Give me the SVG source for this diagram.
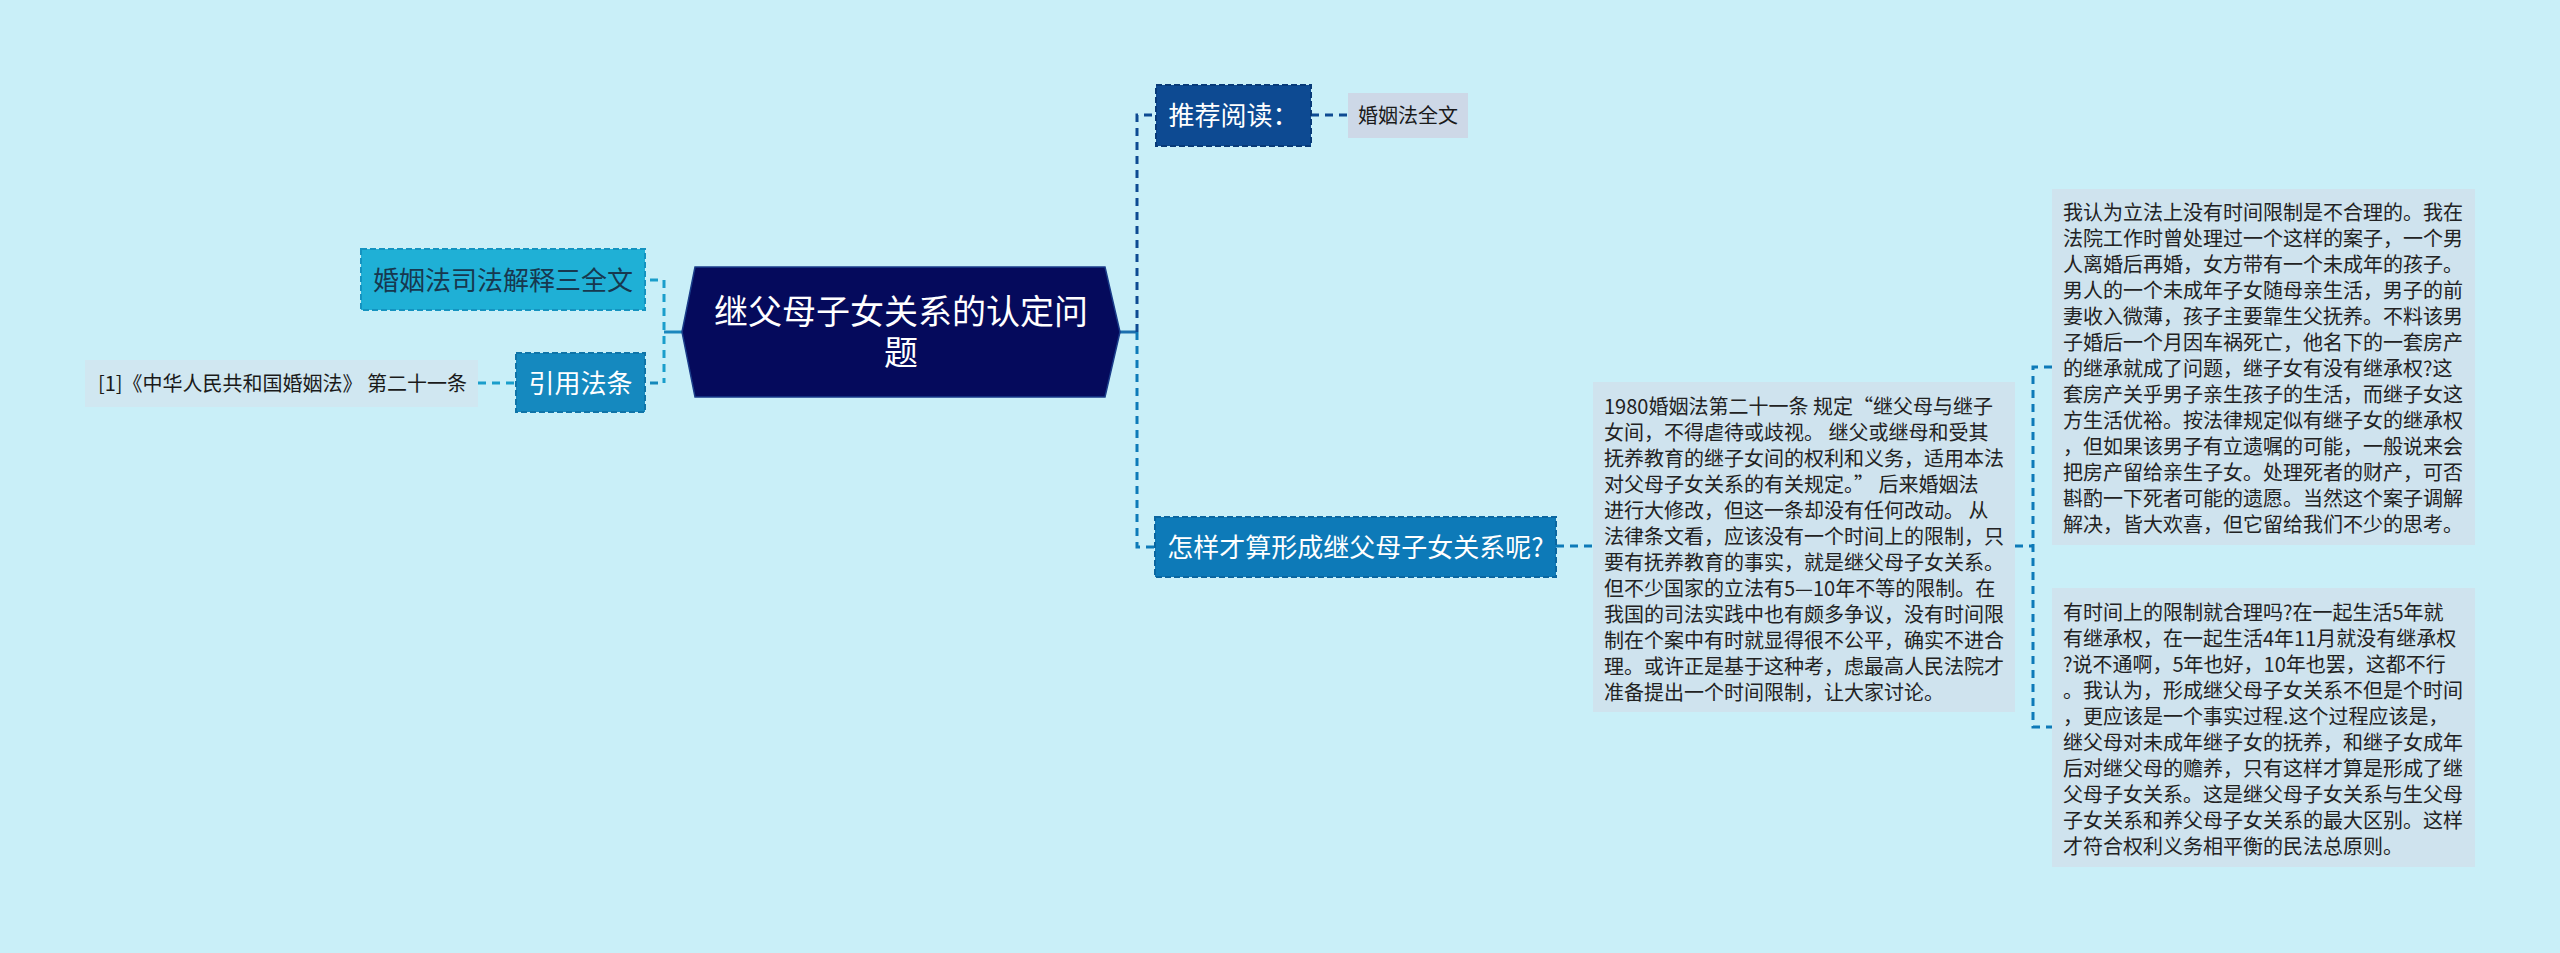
<svg xmlns="http://www.w3.org/2000/svg" width="2560" height="953" viewBox="0 0 2560 953">
<style>
text{font-family:"Noto Sans CJK SC","Noto Sans",sans-serif;}
.c{stroke-width:3;fill:none;stroke-dasharray:8 6;}
.s{stroke-width:3;fill:none;}
.lbl{font-size:26px;text-anchor:middle;}
.leaf{font-size:20px;fill:#1a1a1a;}
.body{font-size:20px;fill:#222;}
</style>
<rect width="2560" height="953" fill="#c9eff8"/>
<g id="connectors">
  <path class="s" stroke="#1b87bd" d="M664 332 H682"/>
  <path class="c" stroke="#1a9ecb" d="M664 280 V383"/>
  <path class="c" stroke="#1a9ecb" d="M650 280 H664"/>
  <path class="c" stroke="#1488bb" d="M650 383 H664"/>
  <path class="c" stroke="#1a9ecb" d="M478 383 H516"/>
  <path class="s" stroke="#1b6fae" d="M1120 332 H1137"/>
  <path class="c" stroke="#0d4a92" d="M1137 332 V115 H1156"/>
  <path class="c" stroke="#0d7ab8" d="M1137 332 V547 H1155"/>
  <path class="c" stroke="#0d4a92" d="M1311 115 H1348"/>
  <path class="c" stroke="#0d7ab8" d="M1556 546 H1593"/>
  <path class="c" stroke="#0d7ab8" d="M2015 546 H2033"/>
  <path class="c" stroke="#0d7ab8" d="M2052 367 H2033 V727 H2052"/>
</g>
<g id="root">
  <polygon points="682,332 695,267 1105,267 1120,332 1105,397 695,397" fill="#050a5c" stroke="#1a3d8a" stroke-width="1.5"/>
  <text font-size="34" fill="#fff" text-anchor="middle"><tspan x="901" y="324">继父母子女关系的认定问</tspan><tspan x="901" y="365">题</tspan></text>
</g>
<g id="n-jiedu">
  <rect x="361" y="249" width="284" height="61" fill="#1fb0d6" stroke="#1493c0" stroke-width="2" stroke-dasharray="6 3"/>
  <text class="lbl" x="503" y="290" fill="#17384f">婚姻法司法解释三全文</text>
</g>
<g id="n-yinyong">
  <rect x="516" y="353" width="129" height="59" fill="#1589bf" stroke="#0f74a8" stroke-width="2" stroke-dasharray="6 3"/>
  <text class="lbl" x="580.5" y="393" fill="#fff">引用法条</text>
</g>
<g id="n-ref">
  <rect x="85" y="360" width="393" height="47" fill="#d0e7f1"/>
  <text class="leaf" x="98" y="390.5">[1]《中华人民共和国婚姻法》 第二十一条</text>
</g>
<g id="n-tuijian">
  <rect x="1156" y="85" width="155" height="61" fill="#0d4a92" stroke="#083a78" stroke-width="2" stroke-dasharray="6 3"/>
  <text class="lbl" x="1233.5" y="125" fill="#fff">推荐阅读：</text>
</g>
<g id="n-quanwen">
  <rect x="1348" y="93" width="120" height="45" fill="#cdd8e7"/>
  <text class="leaf" x="1408" y="122.5" text-anchor="middle">婚姻法全文</text>
</g>
<g id="n-zenyang">
  <rect x="1155" y="517" width="401" height="60" fill="#0d7ab8" stroke="#0a66a0" stroke-width="2" stroke-dasharray="6 3"/>
  <text class="lbl" x="1355.5" y="557" fill="#fff">怎样才算形成继父母子女关系呢?</text>
</g>
<g id="n-box1">
  <rect x="1593" y="382" width="422" height="330" fill="#cfe3ee"/>
  <text class="body">
    <tspan x="1604" y="414">1980婚姻法第二十一条 规定“继父母与继子</tspan>
    <tspan x="1604" y="440">女间，不得虐待或歧视。 继父或继母和受其</tspan>
    <tspan x="1604" y="466">抚养教育的继子女间的权利和义务，适用本法</tspan>
    <tspan x="1604" y="492">对父母子女关系的有关规定。” 后来婚姻法</tspan>
    <tspan x="1604" y="518">进行大修改，但这一条却没有任何改动。 从</tspan>
    <tspan x="1604" y="544">法律条文看，应该没有一个时间上的限制，只</tspan>
    <tspan x="1604" y="570">要有抚养教育的事实，就是继父母子女关系。</tspan>
    <tspan x="1604" y="596">但不少国家的立法有5—10年不等的限制。在</tspan>
    <tspan x="1604" y="622">我国的司法实践中也有颇多争议，没有时间限</tspan>
    <tspan x="1604" y="648">制在个案中有时就显得很不公平，确实不进合</tspan>
    <tspan x="1604" y="674">理。或许正是基于这种考，虑最高人民法院才</tspan>
    <tspan x="1604" y="700">准备提出一个时间限制，让大家讨论。</tspan>
  </text>
</g>
<g id="n-box2">
  <rect x="2052" y="189" width="423" height="356" fill="#cfe3ee"/>
  <text class="body">
    <tspan x="2063" y="220">我认为立法上没有时间限制是不合理的。我在</tspan>
    <tspan x="2063" y="246">法院工作时曾处理过一个这样的案子，一个男</tspan>
    <tspan x="2063" y="272">人离婚后再婚，女方带有一个未成年的孩子。</tspan>
    <tspan x="2063" y="298">男人的一个未成年子女随母亲生活，男子的前</tspan>
    <tspan x="2063" y="324">妻收入微薄，孩子主要靠生父抚养。不料该男</tspan>
    <tspan x="2063" y="350">子婚后一个月因车祸死亡，他名下的一套房产</tspan>
    <tspan x="2063" y="376">的继承就成了问题，继子女有没有继承权?这</tspan>
    <tspan x="2063" y="402">套房产关乎男子亲生孩子的生活，而继子女这</tspan>
    <tspan x="2063" y="428">方生活优裕。按法律规定似有继子女的继承权</tspan>
    <tspan x="2063" y="454">，但如果该男子有立遗嘱的可能，一般说来会</tspan>
    <tspan x="2063" y="480">把房产留给亲生子女。处理死者的财产，可否</tspan>
    <tspan x="2063" y="506">斟酌一下死者可能的遗愿。当然这个案子调解</tspan>
    <tspan x="2063" y="532">解决，皆大欢喜，但它留给我们不少的思考。</tspan>
  </text>
</g>
<g id="n-box3">
  <rect x="2052" y="588" width="423" height="279" fill="#cfe3ee"/>
  <text class="body">
    <tspan x="2063" y="620">有时间上的限制就合理吗?在一起生活5年就</tspan>
    <tspan x="2063" y="646">有继承权，在一起生活4年11月就没有继承权</tspan>
    <tspan x="2063" y="672">?说不通啊，5年也好，10年也罢，这都不行</tspan>
    <tspan x="2063" y="698">。我认为，形成继父母子女关系不但是个时间</tspan>
    <tspan x="2063" y="724">，更应该是一个事实过程.这个过程应该是，</tspan>
    <tspan x="2063" y="750">继父母对未成年继子女的抚养，和继子女成年</tspan>
    <tspan x="2063" y="776">后对继父母的赡养，只有这样才算是形成了继</tspan>
    <tspan x="2063" y="802">父母子女关系。这是继父母子女关系与生父母</tspan>
    <tspan x="2063" y="828">子女关系和养父母子女关系的最大区别。这样</tspan>
    <tspan x="2063" y="854">才符合权利义务相平衡的民法总原则。</tspan>
  </text>
</g>
</svg>
